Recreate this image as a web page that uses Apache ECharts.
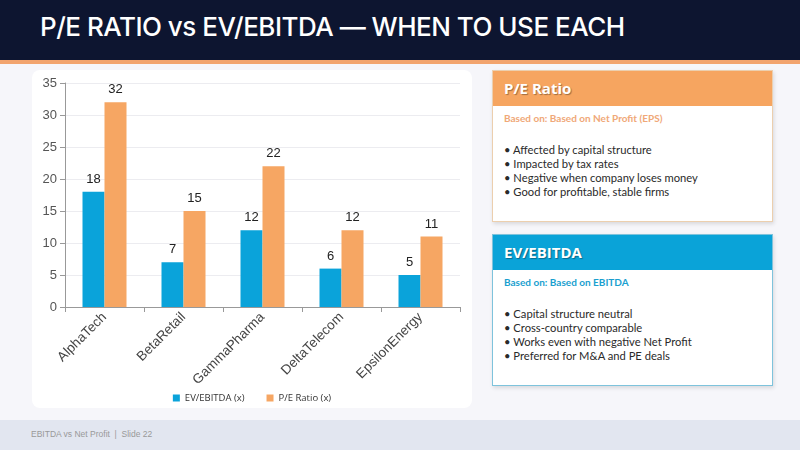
<!DOCTYPE html>
<html><head><meta charset="utf-8">
<script src="https://cdn.jsdelivr.net/npm/echarts@6/dist/echarts.min.js"></script>
<style>
html,body{margin:0;padding:0;width:800px;height:450px;overflow:hidden;background:#f6f6fa;font-family:Lato,"Open Sans",sans-serif;}
#hdr{position:absolute;left:0;top:0;width:800px;height:60px;background:#0d1530;}
#hdr h1{margin:0;position:absolute;left:40px;top:11px;color:#fff;font-family:Inter,sans-serif;font-weight:500;font-size:26px;letter-spacing:-0.5px;}
#stripe{position:absolute;left:0;top:60px;width:800px;height:4px;background:#f2a46e;}
#panel{position:absolute;left:32px;top:70px;width:440px;height:338px;background:#fff;border-radius:8px;}
#chart{position:absolute;left:32px;top:70px;width:440px;height:338px;}
.card{position:absolute;left:492px;width:279px;background:#fff;box-shadow:1px 2px 4px rgba(0,0,0,0.12);}
.card .ch{height:35px;color:#fff;font-weight:700;font-size:15px;line-height:35px;padding-left:11px;text-shadow:1px 1px 1px rgba(0,0,0,0.35);font-family:"Open Sans",sans-serif;}
.card .bo{font-size:10px;font-weight:700;margin:6px 0 0 11px;}
.card ul{list-style:none;margin:19px 0 0 11px;padding:0;font-size:11.2px;color:#2a2a2a;line-height:14px;}
#c1{top:70px;height:150px;border:1px solid #eccfae;}
#c1 .ch{background:#f6a560;}
#c1 .bo{color:#f0a878;}
#c2{top:234px;height:150px;border:1px solid #7ec3dc;}
#c2 .ch{background:#0aa3d8;}
#c2 .bo{color:#1a9fcf;}
#ftr{position:absolute;left:0;top:420px;width:800px;height:30px;background:#e2e6f0;}
#ftr span{position:absolute;left:31px;top:9px;font-size:8.5px;color:#999;font-family:"Liberation Sans",sans-serif;}
</style></head>
<body>
<div id="hdr"><h1>P/E RATIO vs EV/EBITDA — WHEN TO USE EACH</h1></div>
<div id="stripe"></div>
<div id="panel"></div>
<div id="chart"></div>
<div class="card" id="c1"><div class="ch">P/E Ratio</div><div class="bo">Based on: Based on Net Profit (EPS)</div>
<ul><li>• Affected by capital structure</li><li>• Impacted by tax rates</li><li>• Negative when company loses money</li><li>• Good for profitable, stable firms</li></ul></div>
<div class="card" id="c2"><div class="ch">EV/EBITDA</div><div class="bo">Based on: Based on EBITDA</div>
<ul><li>• Capital structure neutral</li><li>• Cross-country comparable</li><li>• Works even with negative Net Profit</li><li>• Preferred for M&amp;A and PE deals</li></ul></div>
<div id="ftr"><span>EBITDA vs Net Profit &nbsp;|&nbsp; Slide 22</span></div>
<script>
const categories = ["AlphaTech","BetaRetail","GammaPharma","DeltaTelecom","EpsilonEnergy"];
const evEbitda = [18,7,12,6,5];
const peRatio = [32,15,22,12,11];
const seriesNames = ["EV/EBITDA (x)","P/E Ratio (x)"];
const yTicks = {min:0,max:35,interval:5};

const chart = echarts.init(document.getElementById('chart'), null, {renderer:'canvas'});
const lbl = {show:true,position:'top',color:'#222',fontSize:13,fontFamily:'Liberation Sans, Arial',distance:6};
chart.setOption({
  animation:false,
  grid:{left:33,top:13,right:12,bottom:101,containLabel:false},
  legend:{bottom:0,left:'center',itemWidth:7,itemHeight:7,itemGap:22,icon:'rect',
    textStyle:{fontSize:9.5,color:'#333',fontFamily:'Open Sans'},data:seriesNames},
  xAxis:{type:'category',data:categories,
    axisLine:{lineStyle:{color:'#999'}},axisTick:{show:true,alignWithLabel:false,lineStyle:{color:'#999'}},
    axisLabel:{rotate:45,fontSize:13.5,color:'#444',fontFamily:'Liberation Sans, Arial',interval:0,margin:8}},
  yAxis:{type:'value',min:yTicks.min,max:yTicks.max,interval:yTicks.interval,
    axisLine:{show:true,lineStyle:{color:'#999'}},axisTick:{show:true,lineStyle:{color:'#999'}},
    splitLine:{lineStyle:{color:'#ececf0'}},
    axisLabel:{fontSize:13,color:'#555',fontFamily:'Liberation Sans, Arial',margin:8}},
  series:[
    {name:seriesNames[0],type:'bar',data:evEbitda,barWidth:22,barGap:'0%',itemStyle:{color:'#0aa3da'},label:lbl},
    {name:seriesNames[1],type:'bar',data:peRatio,barWidth:22,barGap:'0%',itemStyle:{color:'#f6a663'},label:lbl}
  ]
});
</script>
</body></html>
